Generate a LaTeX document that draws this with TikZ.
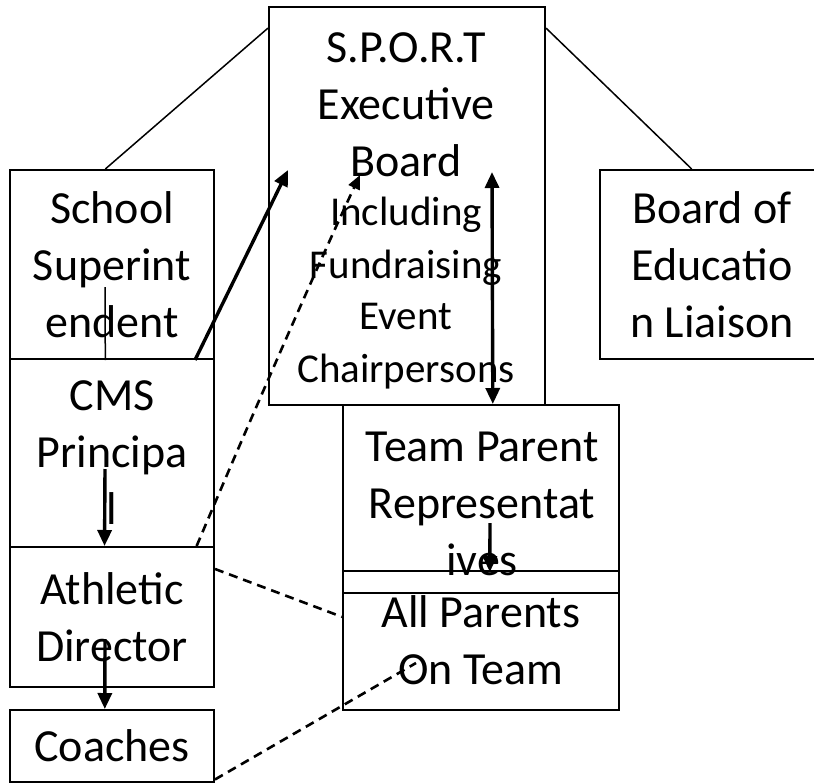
\documentclass[tikz,border=0pt]{standalone}
\usepackage{fontspec}
\setmainfont{Carlito}
\usetikzlibrary{arrows.meta}
\newcommand{\bigtxt}{\fontsize{46}{57}\selectfont}
\newcommand{\smalltxt}{\fontsize{41}{52}\selectfont}
\tikzset{
  box/.style={draw, line width=2pt, inner sep=0pt, align=center, font=\bigtxt},
  txt/.style={inner sep=0pt, align=center, font=\bigtxt},
  link/.style={line width=1.5pt},
  flow/.style={line width=3.4pt, -{Triangle[length=16pt,width=14pt]}},
  dashlink/.style={line width=2.6pt, dash pattern=on 9pt off 6pt}
}
\begin{document}
\begin{tikzpicture}[x=1pt, y=-1pt]
    \useasboundingbox (0,0) rectangle (814,782);

    \node[box, minimum width=276, minimum height=398] (board) at (407,206) {};
    \node[box, minimum width=204, minimum height=189] (sup) at (112,264.5) {School\\Superint\\endent};
    \node[box, minimum width=204, minimum height=188] (cms) at (112,453) {CMS\\Principa\\l};
    \node[box, minimum width=204, minimum height=140] (ath) at (112,617) {Athletic\\Director};
    \node[box, minimum width=204, minimum height=72] (coach) at (112,746) {Coaches};
    \node[box, minimum width=224, minimum height=189] (boe) at (712,264.5) {Board of\\Educatio\\n Liaison};
    \node[box, minimum width=276, minimum height=166] (tp) at (481,488) {};
    \node[box, minimum width=276, minimum height=22] (gap) at (481,582) {};
    \node[box, minimum width=276, minimum height=117] (allp) at (481,651.5) {};

    \coordinate (supmid) at (105,287);
    \coordinate (cmsmid) at (105,469);
    \coordinate (athmid) at (105,639);
    \coordinate (tpmid) at (490,523);
    \coordinate (boardin) at (288,170);
    \coordinate (boardlnk) at (360,175);
    \coordinate (boardtop) at (492,172);
    \coordinate (allpin) at (416,663);

    \draw[link] (sup.94) -- (board.128);
    \draw[link] (board.52) -- (boe.102);
    \draw[link] (supmid) -- (sup.266);
    \draw[flow] (cmsmid) -- (ath.96);
    \draw[flow] (athmid) -- (coach.101);
    \draw[flow] (tpmid) -- (tp.276);
    \draw[flow] (sup.-49) -- (boardin);
    \draw[flow, {Triangle[length=16pt,width=14pt]}-{Triangle[length=16pt,width=14pt]}] (boardtop) -- (tp.82);
    \draw[dashlink, -{Triangle[length=14pt,width=12pt]}] (ath.40) .. controls (250,420) and (320,260) .. (boardlnk);
    \draw[dashlink] (ath.25) -- (allp.166);
    \draw[dashlink] (coach.-18) -- (allpin);

    \node[txt] (boardtext) at (406,211)
      {S.P.O.R.T\\Executive\\Board\\[-8pt]{\smalltxt Including}\\[-4pt]{\smalltxt Fundraising}\\[-6pt]{\smalltxt Event}\\[-4pt]{\smalltxt Chairpersons}};
    \node[txt] (tptext) at (482,504) {Team Parent\\Representat\\ives};
    \node[txt] (allptext) at (481,640) {All Parents\\On Team};
\end{tikzpicture}
\end{document}
